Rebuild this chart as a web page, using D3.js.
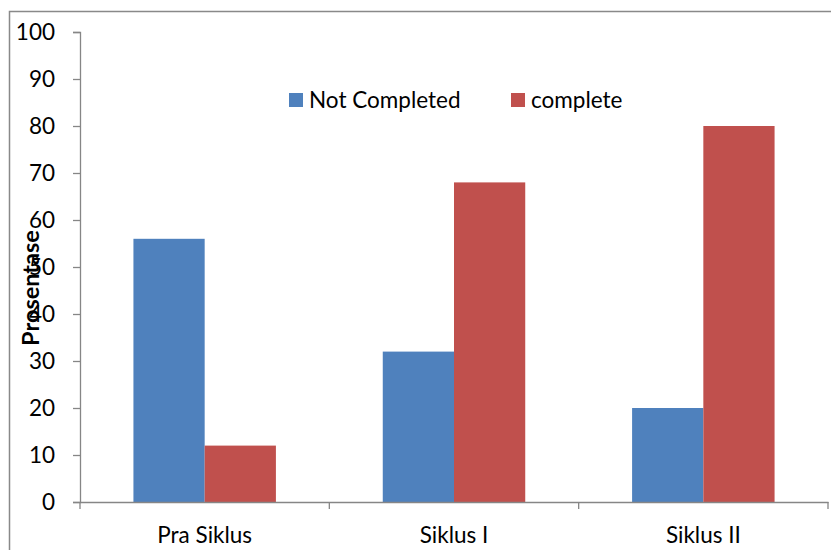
<!DOCTYPE html>
<html>
<head>
<meta charset="utf-8">
<script src="https://cdn.jsdelivr.net/npm/d3@7"></script>
<style>
  html, body { margin: 0; padding: 0; background: #fff; }
  svg { display: block; }
  text { font-family: "Lato", "Open Sans", sans-serif; fill: #000; }
</style>
</head>
<body>
<svg id="chart" width="831" height="550"></svg>
<script>
const categories = ["Pra Siklus", "Siklus I", "Siklus II"];
const seriesNames = ["Not Completed", "complete"];
const notCompleted = [56, 32, 20];
const complete = [12, 68, 80];
const yTicks = [0, 10, 20, 30, 40, 50, 60, 70, 80, 90, 100];
const colors = ["#4F81BD", "#C0504D"];
const yTitle = "Prosentase";

const svg = d3.select("#chart");
const W = 831, H = 550;
const plot = { left: 80, right: 828, top: 32, bottom: 502 };
const FS = 22.5;

// outer frame
svg.append("rect")
  .attr("x", 9.5).attr("y", 11.5)
  .attr("width", W + 10).attr("height", H + 10)
  .attr("fill", "none").attr("stroke", "#898989").attr("stroke-width", 1.5);

const x0 = d3.scaleBand().domain(categories).range([plot.left, plot.right]).paddingInner(0).paddingOuter(0);
const x1 = d3.scaleBand().domain(seriesNames).range([0, x0.bandwidth()]).paddingInner(0).paddingOuter(0.75);
const y = d3.scaleLinear().domain([0, 100]).range([plot.bottom, plot.top]);

const series = [notCompleted, complete];
const data = [];
categories.forEach((c, i) => seriesNames.forEach((s, j) => data.push({ c, s, v: series[j][i], j })));

svg.append("g").selectAll("rect").data(data).enter().append("rect")
  .attr("x", d => x0(d.c) + x1(d.s))
  .attr("y", d => y(d.v))
  .attr("width", x1.bandwidth())
  .attr("height", d => y(0) - y(d.v))
  .attr("fill", d => colors[d.j]);

// y axis
const yAxis = svg.append("g").attr("transform", `translate(${plot.left},0)`)
  .call(d3.axisLeft(y).tickValues(yTicks).tickSize(7).tickPadding(18));
yAxis.select(".domain").attr("stroke", "#868686").attr("stroke-width", 1.3);
yAxis.selectAll(".tick line").attr("stroke", "#868686").attr("stroke-width", 1.3);
yAxis.selectAll(".tick text").attr("font-size", FS).attr("font-family", "Lato").attr("fill", "#000");

// x axis
const xAxis = svg.append("g").attr("transform", `translate(0,${plot.bottom})`)
  .call(d3.axisBottom(x0).tickSize(0).tickPadding(25));
xAxis.select(".domain").attr("stroke", "#868686").attr("stroke-width", 1.3);
xAxis.selectAll(".tick text").attr("font-size", FS).attr("font-family", "Lato").attr("fill", "#000");
// category boundary ticks
const bounds = categories.map(c => x0(c)).concat([plot.right]);
svg.append("g").selectAll("line").data(bounds).enter().append("line")
  .attr("x1", d => d).attr("x2", d => d)
  .attr("y1", plot.bottom).attr("y2", plot.bottom + 7)
  .attr("stroke", "#868686").attr("stroke-width", 1.3);

// y title
svg.append("text")
  .attr("transform", `translate(39,288) rotate(-90)`)
  .attr("text-anchor", "middle")
  .attr("font-size", 23.5).attr("font-weight", "bold")
  .text(yTitle);

// legend
const legendItems = [{ name: seriesNames[0], x: 289, c: colors[0] }, { name: seriesNames[1], x: 511, c: colors[1] }];
const lg = svg.append("g");
legendItems.forEach(it => {
  lg.append("rect").attr("x", it.x).attr("y", 93).attr("width", 14).attr("height", 14).attr("fill", it.c);
  lg.append("text").attr("x", it.x + 20).attr("y", 108).attr("font-size", FS).text(it.name);
});
</script>
</body>
</html>
